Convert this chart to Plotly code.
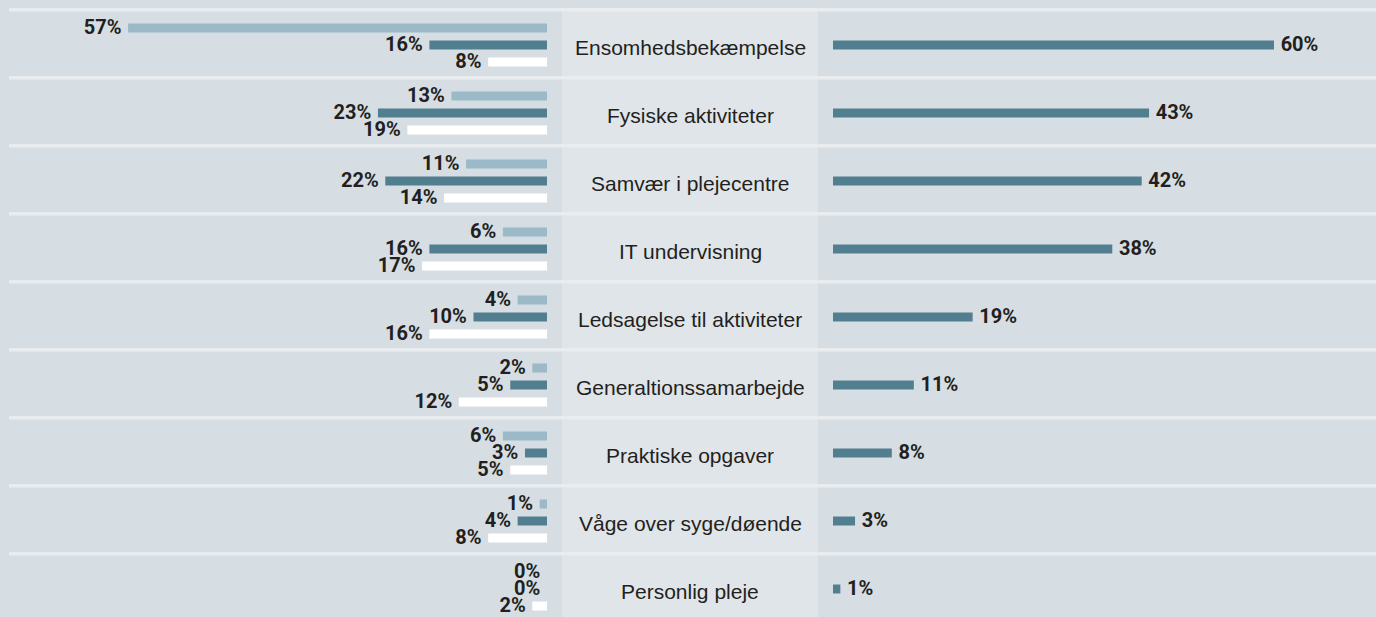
import plotly.graph_objects as go

categories = ["Ensomhedsbekæmpelse", "Fysiske aktiviteter", "Samvær i plejecentre",
              "IT undervisning", "Ledsagelse til aktiviteter", "Generaltionssamarbejde",
              "Praktiske opgaver", "Våge over syge/døende", "Personlig pleje"]
left_light = [57, 13, 11, 6, 4, 2, 6, 1, 0]
left_dark = [16, 23, 22, 16, 10, 5, 3, 4, 0]
left_white = [8, 19, 14, 17, 16, 12, 5, 8, 2]
right_dark = [60, 43, 42, 38, 19, 11, 8, 3, 1]

BG = "#d6dee3"
MID = "#e0e5e9"
LINE = "#e9edef"
LIGHT = "#9bb9c7"
DARK = "#527f90"
WHITE = "#ffffff"
TXT = "#231f20"
PCT_FONT = dict(family="Roboto, Liberation Sans Narrow, DejaVu Sans Condensed",
                size=20, color=TXT, weight="bold")

W, H = 1376, 617
PX_PER = 7.35
ROW_PX = 68.0
ROW0 = 45.0
rows = list(range(len(categories)))

bw = 9 / ROW_PX
step = 17 / ROW_PX

fig = go.Figure()

def add_series(vals, color, off, name, xa, side):
    ys = [r + off for r in rows]
    fig.add_trace(go.Bar(
        x=vals, y=ys, orientation="h", name=name,
        marker=dict(color=color, line=dict(width=0)),
        width=bw,
        xaxis=xa, yaxis="y", hoverinfo="skip", showlegend=False))
    fig.add_trace(go.Scatter(
        x=vals, y=[y + 0.02 for y in ys], mode="markers+text",
        marker=dict(size=9, opacity=0),
        text=[f"{v}%" for v in vals],
        textposition="middle left" if side == "left" else "middle right",
        textfont=PCT_FONT, cliponaxis=False,
        xaxis=xa, yaxis="y", hoverinfo="skip", showlegend=False))

add_series(left_light, LIGHT, -step, "Serie 1", "x", "left")
add_series(left_dark, DARK, 0, "Serie 2", "x", "left")
add_series(left_white, WHITE, step, "Serie 3", "x", "left")
add_series(right_dark, DARK, 0, "Samlet", "x2", "right")

shapes = []
shapes.append(dict(type="rect", xref="paper", yref="y",
                   x0=562 / W, x1=818 / W, y0=-0.5, y1=len(categories) + 1,
                   fillcolor=MID, line=dict(width=0), layer="below"))
for i in rows:
    yy = i - 0.5 - 0.02
    shapes.append(dict(type="line", xref="paper", yref="y",
                       x0=9 / W, x1=1, y0=yy, y1=yy,
                       line=dict(color=LINE, width=3.5), layer="below"))

annotations = []
for i, c in enumerate(categories):
    annotations.append(dict(x=690 / W, y=i + 0.03, xref="paper", yref="y", text=c,
                            showarrow=False, xanchor="center", yanchor="middle",
                            font=dict(family="Liberation Sans, Arial, Helvetica", size=21, color=TXT)))

ytop = -ROW0 / ROW_PX
ybot = (H - ROW0) / ROW_PX

fig.update_layout(
    width=W, height=H, margin=dict(l=0, r=0, t=0, b=0),
    paper_bgcolor=BG, plot_bgcolor="rgba(0,0,0,0)",
    barmode="overlay", showlegend=False,
    shapes=shapes, annotations=annotations,
    xaxis=dict(domain=[0, 547 / W], range=[547 / PX_PER, 0], visible=False, fixedrange=True),
    xaxis2=dict(domain=[833 / W, 1], range=[0, (W - 833) / PX_PER], visible=False,
                anchor="y", fixedrange=True),
    yaxis=dict(range=[ybot, ytop], visible=False, fixedrange=True),
)

fig.write_html("out.html", config={"displayModeBar": False},
               post_script="document.body.style.margin='0';document.body.style.overflow='hidden';")
